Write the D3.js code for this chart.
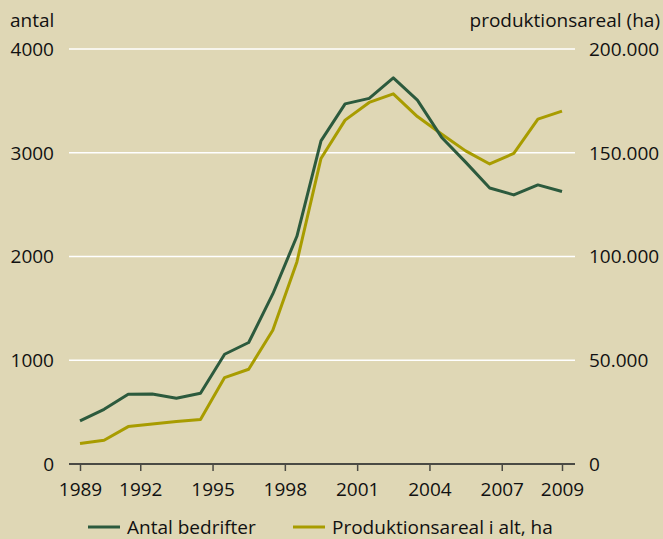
<!DOCTYPE html>
<html><head><meta charset="utf-8">
<script src="https://cdn.jsdelivr.net/npm/d3@7"></script>
<style>
html,body{margin:0;padding:0;background:#DFD7B5;}
svg{display:block;}
text{font-family:"Open Sans","Noto Sans",sans-serif;fill:#111;}
</style></head>
<body>
<script>
const years = d3.range(1989, 2010);
const bedrifter = [415, 527, 672, 675, 634, 682, 1058, 1171, 1639, 2195, 3115, 3471, 3524, 3722, 3507, 3150, 2910, 2660, 2594, 2690, 2627];
const areal = [9840, 11430, 18030, 19290, 20440, 21400, 41660, 45660, 64470, 97400, 147250, 165720, 174250, 178400, 167450, 159000, 150900, 144600, 149700, 166200, 170060];
const xTickPos = [1989, 1991.5, 1994.5, 1997.5, 2000.5, 2003.5, 2006.5, 2009];
const xTickLabels = ["1989", "1992", "1995", "1998", "2001", "2004", "2007", "2009"];
const leftTicks = [0, 1000, 2000, 3000, 4000];
const rightTicks = [0, 50000, 100000, 150000, 200000];
const seriesNames = ["Antal bedrifter", "Produktionsareal i alt, ha"];
const colors = ["#2C5A3D", "#A89C00"];

const W = 663, H = 539;
const svg = d3.select("body").append("svg").attr("width", W).attr("height", H);
svg.append("rect").attr("width", W).attr("height", H).attr("fill", "#DFD7B5");

const x = d3.scaleLinear().domain([1989, 2009]).range([80, 562]);
const yL = d3.scaleLinear().domain([0, 4000]).range([464, 49]);
const yR = d3.scaleLinear().domain([0, 200000]).range([464, 49]);
const gridX0 = 69, gridX1 = 575;

svg.append("g").selectAll("line").data(leftTicks.filter(d => d > 0)).join("line")
  .attr("x1", gridX0).attr("x2", gridX1)
  .attr("y1", d => yL(d)).attr("y2", d => yL(d))
  .attr("stroke", "#ffffff").attr("stroke-width", 1.5);

const fs = 19;
svg.append("g").selectAll("text").data(leftTicks).join("text")
  .attr("x", 54).attr("y", d => yL(d)).attr("dy", "0.36em")
  .attr("text-anchor", "end").attr("font-size", fs)
  .text(d => d);
const fmt = d => d === 0 ? "0" : d3.format(",")(d).replace(/,/g, ".");
svg.append("g").selectAll("text").data(rightTicks).join("text")
  .attr("x", 589).attr("y", d => yR(d)).attr("dy", "0.36em")
  .attr("text-anchor", "start").attr("font-size", fs)
  .text(fmt);

svg.append("text").attr("x", 10).attr("y", 27).attr("font-size", fs).text("antal");
svg.append("text").attr("x", 660).attr("y", 27).attr("text-anchor", "end").attr("font-size", fs).text("produktionsareal (ha)");

const xAxis = d3.axisBottom(x).tickValues(xTickPos)
  .tickFormat((d, i) => xTickLabels[i]).tickSize(7).tickSizeOuter(0);
const gx = svg.append("g").attr("transform", "translate(0,464)").call(xAxis);
gx.select(".domain").remove();
gx.append("line").attr("x1", gridX0).attr("x2", gridX1).attr("y1", 0).attr("y2", 0)
  .attr("stroke", "#4a4a44").attr("stroke-width", 2.2);
gx.selectAll(".tick line").attr("stroke", "#4a4a44").attr("stroke-width", 1.5);
gx.selectAll(".tick text").attr("font-size", fs).attr("fill", "#111")
  .attr("font-family", '"Open Sans","Noto Sans",sans-serif').attr("y", 19);

const lineL = d3.line().x((d, i) => x(years[i])).y(d => yL(d));
const lineR = d3.line().x((d, i) => x(years[i])).y(d => yR(d));
svg.append("path").datum(areal).attr("d", lineR).attr("fill", "none")
  .attr("stroke", colors[1]).attr("stroke-width", 3).attr("stroke-linejoin", "round");
svg.append("path").datum(bedrifter).attr("d", lineL).attr("fill", "none")
  .attr("stroke", colors[0]).attr("stroke-width", 3).attr("stroke-linejoin", "round");

const legX = [88, 293];
const lg = svg.append("g").selectAll("g").data(seriesNames).join("g")
  .attr("transform", (d, i) => `translate(${legX[i]},527)`);
lg.append("line").attr("x1", 0).attr("x2", 32).attr("y1", 0).attr("y2", 0)
  .attr("stroke", (d, i) => colors[i]).attr("stroke-width", 3);
lg.append("text").attr("x", 39).attr("y", 0).attr("dy", "0.36em").attr("font-size", fs).text(d => d);
</script>
</body></html>
